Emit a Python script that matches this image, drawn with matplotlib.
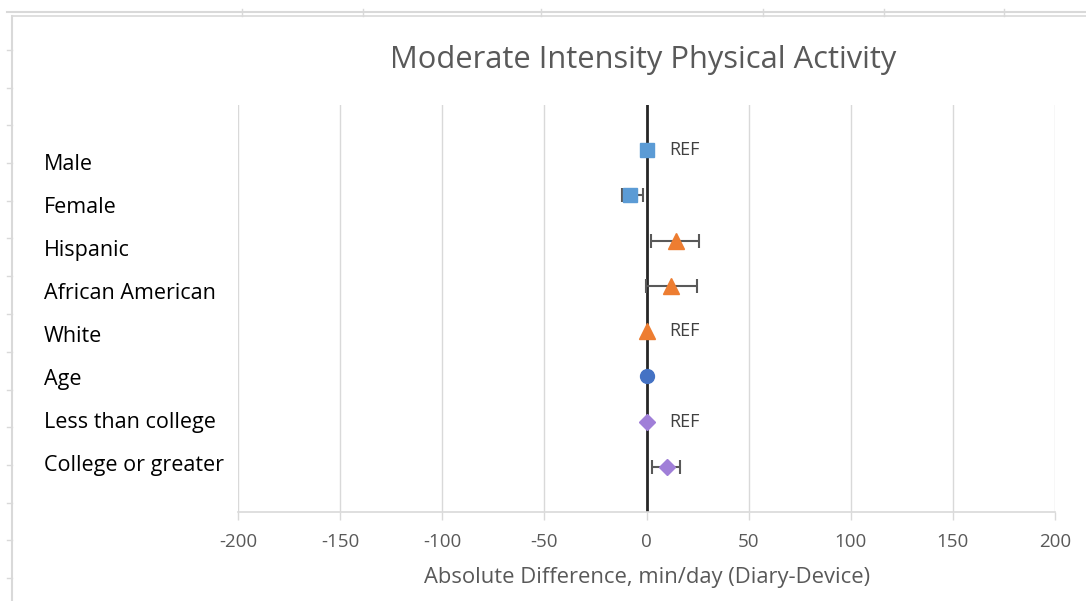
import matplotlib
matplotlib.use("Agg")
import matplotlib.pyplot as plt
from matplotlib.lines import Line2D

plt.rcParams['font.family'] = ['Open Sans', 'DejaVu Sans']

categories = ["Male", "Female", "Hispanic", "African American", "White", "Age",
              "Less than college", "College or greater"]
values = [0, -8.1, 14.3, 11.8, 0, 0, 0, 10.2]
lower = [None, -12.1, 2.1, -0.4, None, None, None, 2.9]
upper = [None, -1.6, 25.9, 24.9, None, None, None, 16.4]
ref_flags = [True, False, False, False, True, False, True, False]
markers = ["s", "s", "^", "^", "^", "o", "D", "D"]
colors = ["#5B9BD5", "#5B9BD5", "#ED7D31", "#ED7D31", "#ED7D31", "#4472C4",
          "#A07FD8", "#A07FD8"]
msizes = [10, 10, 11, 11, 11, 10, 8, 8]
xticks = [-200, -150, -100, -50, 0, 50, 100, 150, 200]

W, H = 1086, 601
fig = plt.figure(figsize=(W/100, H/100), dpi=100)
ax = fig.add_axes([238/W, 89/H, 817/W, 407/H])

n = len(categories)
ypos = [n - i for i in range(n)]

ax.set_xlim(-200, 200)
ax.set_ylim(0, n + 1)

for x in xticks:
    if x != 0:
        ax.axvline(x, color="#D9D9D9", lw=1, zorder=0)
ax.axvline(0, color="#262626", lw=2, zorder=1)

for i in range(n):
    y = ypos[i]
    if lower[i] is not None:
        ax.errorbar(values[i], y,
                    xerr=[[values[i] - lower[i]], [upper[i] - values[i]]],
                    fmt="none", ecolor="#595959", elinewidth=1.5, capsize=5,
                    capthick=1.5, zorder=2)
    ax.plot(values[i], y, marker=markers[i], color=colors[i], ms=msizes[i],
            linestyle="none", zorder=3, markeredgecolor=colors[i])
    if ref_flags[i]:
        ax.text(values[i] + 11, y, "REF", fontsize=13, color="#404040",
                ha="left", va="center")

# category labels (left-aligned, in the left margin)
for i in range(n):
    ypix = 164 + i * 43.14
    fig.text(44/W, 1 - ypix/H, categories[i], fontsize=15.5,
             color="#000000", ha="left", va="center")

for s in ["top", "right", "left"]:
    ax.spines[s].set_visible(False)
ax.spines["bottom"].set_color("#D9D9D9")
ax.spines["bottom"].set_linewidth(1.2)
ax.set_yticks([])
ax.set_xticks(xticks)
ax.set_xticklabels([str(t) for t in xticks])
ax.tick_params(axis="x", colors="#D9D9D9", length=6, width=1, labelcolor="#595959",
               labelsize=13.5, pad=9)

fig.text(647/W, 1 - 578/H, "Absolute Difference, min/day (Diary-Device)",
         fontsize=15.8, color="#595959", ha="center", va="center")
fig.text(643/W, 1 - 60/H, "Moderate Intensity Physical Activity",
         fontsize=22.2, color="#595959", ha="center", va="center")

# spreadsheet frame artifacts
fc = "#D9D9D9"
fig.add_artist(Line2D([7/W, 1], [1 - 12/H, 1 - 12/H], color=fc, lw=1.5,
                      transform=fig.transFigure))
fig.add_artist(Line2D([12/W, 1], [1 - 16/H, 1 - 16/H], color=fc, lw=1.2,
                      transform=fig.transFigure))
fig.add_artist(Line2D([12/W, 12/W], [0, 1 - 16/H], color=fc, lw=1.5,
                      transform=fig.transFigure))
for yy in [50, 88, 125, 163, 201, 238, 276, 314, 352, 390, 427, 465, 503, 540, 578]:
    fig.add_artist(Line2D([7/W, 12/W], [1 - yy/H, 1 - yy/H], color=fc,
                          lw=1, transform=fig.transFigure))
for xx in [242, 363, 541, 763, 884, 1004]:
    fig.add_artist(Line2D([xx/W, xx/W], [1 - 9/H, 1 - 16/H], color=fc,
                          lw=1, transform=fig.transFigure))

fig.savefig("out.png", dpi=100, facecolor="white")
